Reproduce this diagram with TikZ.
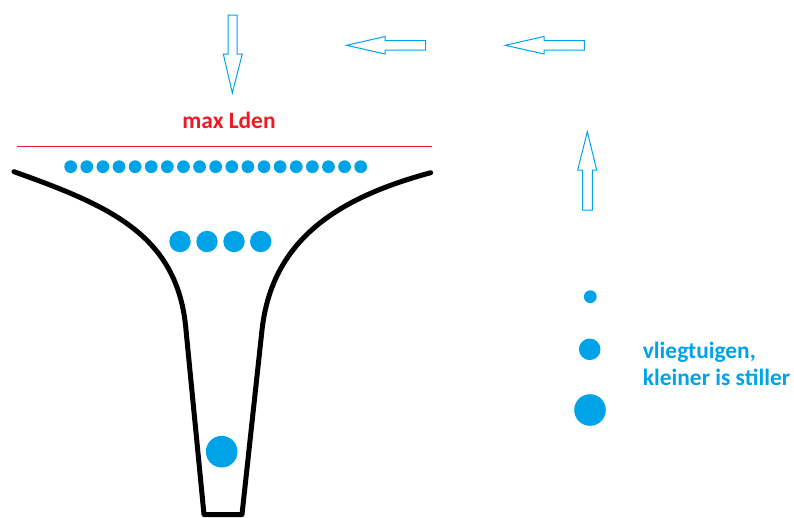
\documentclass[tikz,border=0pt]{standalone}
\usepackage{fontspec}
\setmainfont{Carlito}
\definecolor{pblue}{HTML}{00A2E8}
\definecolor{pred}{HTML}{ED1C24}
\begin{document}
\begin{tikzpicture}[x=1pt,y=-1pt,
  arrowbox/.style={draw=pblue,line width=1pt,line join=miter,fill=white},
  dotc/.style={fill=pblue,draw=none},
  funnel/.style={draw=black,line width=5pt,line cap=round,line join=round},
  lbl/.style={font=\fontsize{23.4}{27}\selectfont\bfseries,inner sep=0pt}]
\useasboundingbox (0,0) rectangle (794,517);
% open arrows
\draw[arrowbox] (228,15) -- (237,15) -- (237,54) -- (242.3,54) -- (232.3,93) -- (223.3,54) -- (228,54) -- cycle;
\draw[arrowbox] (425.7,40.7) -- (425.7,50) -- (385,50) -- (385,54) -- (346.7,45.3) -- (385,36.5) -- (385,40.7) -- cycle;
\draw[arrowbox] (584.3,40.7) -- (584.3,50) -- (544,50) -- (544,54) -- (505.3,45.3) -- (544,36.5) -- (544,40.7) -- cycle;
\draw[arrowbox] (582.7,210) -- (592.3,210) -- (592.3,170) -- (596.7,170) -- (587.3,131.7) -- (577.7,170) -- (582.7,170) -- cycle;
% red limit line
\draw[pred,line width=1pt] (16.7,146) -- (431.7,146);
\node[lbl,text=pred] (maxlden) at (229,120) {max Lden};
% funnel
\draw[funnel] (14,171.7) .. controls (110,206) and (178,235) .. (186,330)
  -- (204,514.5) -- (242,514.5) -- (262,330)
  .. controls (272,240) and (337,198) .. (430.7,172.7);
% small dots row
\foreach \i in {0,...,18} \fill[dotc] ({70.7+\i*16.11},166.7) circle (6.4);
% medium dots
\foreach \x in {180,207,234,260.7} \fill[dotc] (\x,241.5) circle (10.7);
% large dot
\fill[dotc] (221.7,451.7) circle (15.8);
% legend
\fill[dotc] (590.3,296.7) circle (6.4);
\fill[dotc] (589.7,349.3) circle (10.8);
\fill[dotc] (590,410) circle (15.8);
\node[lbl,text=pblue,anchor=west,align=left] (legend) at (642.7,363.5) {vliegtuigen,\\kleiner is stiller};
\end{tikzpicture}
\end{document}
